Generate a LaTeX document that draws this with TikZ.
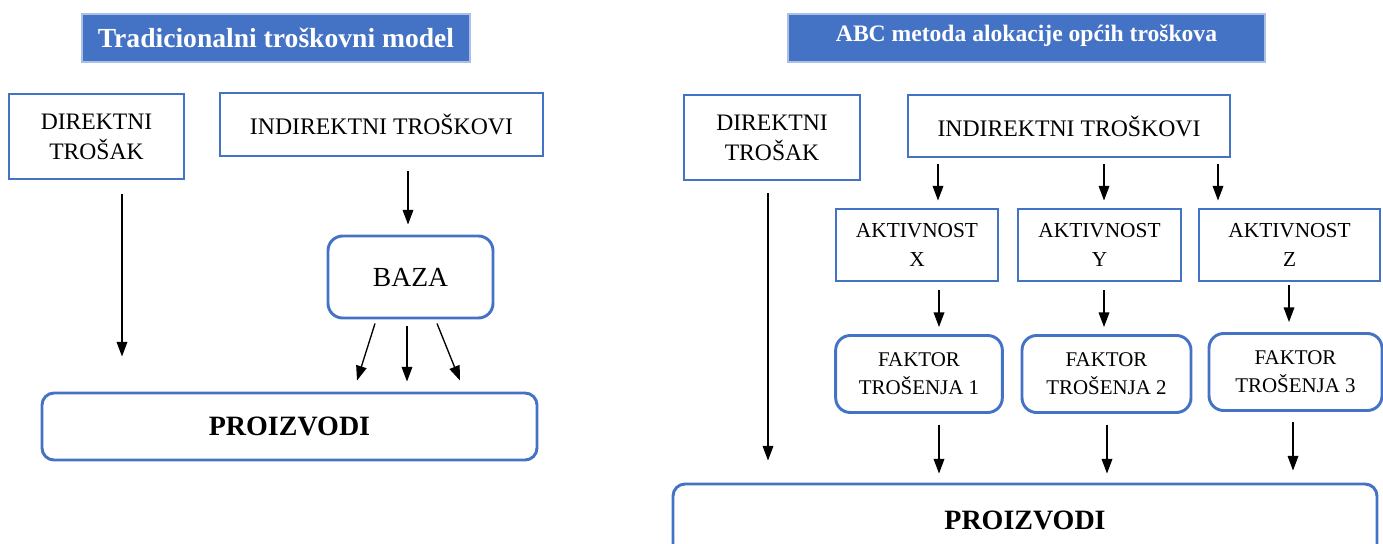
\documentclass[tikz,border=0pt]{standalone}
\usepackage{fontspec}
\setmainfont{Liberation Serif}
\usetikzlibrary{arrows.meta,calc}
\definecolor{hdblue}{HTML}{4472C4}

\tikzset{every picture/.style={line width=0.75pt}}
\tikzset{
  hdbox/.style={fill=hdblue, draw=hdblue!45, line width=1.5pt, text=white, inner sep=0pt},
  sqbox/.style={draw=hdblue, line width=2.2pt, align=center, inner sep=0pt},
  rdbox/.style={sqbox, rounded corners=11pt},
  arr/.style={line width=1pt, -{Triangle[length=11pt,width=8pt]}},
}

\begin{document}
\begin{tikzpicture}[x=0.75pt,y=0.75pt,yscale=-1,xscale=1]
\useasboundingbox (0,0) rectangle (1383,543);

%%% Tradicionalni model
% Text Node
\node (hdl) [hdbox, minimum width=291pt, minimum height=36pt, font={\fontsize{20.7}{24}\selectfont\bfseries}] at (276,38) {Tradicionalni troškovni model};
% Text Node
\node (dl) [sqbox, minimum width=131.25pt, minimum height=63.75pt, font={\fontsize{17.7}{22.5}\selectfont}] at (96.5,136.5) {DIREKTNI\\TROŠAK};
% Text Node
\node (il) [sqbox, minimum width=242.25pt, minimum height=47.25pt, font={\fontsize{17.8}{22.5}\selectfont}] at (381.5,124.5) {INDIREKTNI TROŠKOVI};
% Rounded Rect
\node (baza) [rdbox, minimum width=123.75pt, minimum height=61.5pt, font={\fontsize{20.7}{24}\selectfont}] at (410.5,277) {BAZA};
% Rounded Rect
\node (pl) [rdbox, rounded corners=9pt, minimum width=371.25pt, minimum height=50.25pt, font={\fontsize{21}{24}\selectfont\bfseries}] at (289.5,426.5) {PROIZVODI};

%Straight Lines
\draw [arr] ($(dl.south)+(25.5,14)$) -- ($(pl.north)+(-167.5,-35)$);
\draw [arr] ($(il.south)+(26.5,14)$) -- ($(baza.north)+(-2.5,-10)$);
\draw [arr] ($(baza.south)+(-35.5,4)$) -- ($(pl.north)+(67.5,-11)$);
\draw [arr] ($(baza.south)+(-3.5,7)$) -- ($(pl.north)+(117.5,-10)$);
\draw [arr] ($(baza.south)+(26.5,4)$) -- ($(pl.north)+(170.5,-11)$);

%%% ABC metoda
% Text Node
\node (hdr) [hdbox, minimum width=357.75pt, minimum height=36pt, text depth=7.5pt, font={\fontsize{17.7}{22}\selectfont\bfseries}] at (1026.5,38) {ABC metoda alokacije općih troškova};
% Text Node
\node (dr) [sqbox, minimum width=132pt, minimum height=63.75pt, font={\fontsize{17.7}{22.5}\selectfont}] at (772,137.5) {DIREKTNI\\TROŠAK};
% Text Node
\node (ir) [sqbox, minimum width=241.5pt, minimum height=46.5pt, font={\fontsize{17.8}{22.5}\selectfont}] at (1069,126) {INDIREKTNI TROŠKOVI};
% Text Node
\node (ax) [sqbox, minimum width=121.5pt, minimum height=54pt, font={\fontsize{16}{21.75}\selectfont}] at (917,245) {AKTIVNOST\\X};
\node (ay) [sqbox, minimum width=122.25pt, minimum height=54pt, font={\fontsize{16}{21.75}\selectfont}] at (1099.5,245) {AKTIVNOST\\Y};
\node (az) [sqbox, minimum width=135.75pt, minimum height=54pt, font={\fontsize{16}{21.75}\selectfont}] at (1289.5,245) {AKTIVNOST\\Z};
% Rounded Rect
\node (f1) [rdbox, minimum width=125pt, minimum height=57.75pt, font={\fontsize{15.7}{21}\selectfont}] at (919,374) {FAKTOR\\TROŠENJA 1};
\node (f2) [rdbox, minimum width=126.75pt, minimum height=57.75pt, font={\fontsize{15.7}{21}\selectfont}] at (1106.5,374) {FAKTOR\\TROŠENJA 2};
\node (f3) [rdbox, minimum width=129.75pt, minimum height=57.75pt, font={\fontsize{15.7}{21}\selectfont}] at (1295.5,372) {FAKTOR\\TROŠENJA 3};
% Rounded Rect
\node (pr) [rdbox, rounded corners=9pt, minimum width=528pt, minimum height=54pt, font={\fontsize{21}{24}\selectfont\bfseries}] at (1025,520) {PROIZVODI};

%Straight Lines
\draw [arr] ($(ir.south)+(-131,6)$) -- ($(ax.north)+(21,-7)$);
\draw [arr] ($(ir.south)+(35,6)$) -- ($(ay.north)+(4.5,-7)$);
\draw [arr] ($(ir.south)+(149,6)$) -- ($(az.north)+(-71.5,-7)$);
\draw [arr] ($(ax.south)+(22,8)$) -- ($(f1.north)+(20,-7)$);
\draw [arr] ($(ay.south)+(4.5,8)$) -- ($(f2.north)+(-2.5,-7)$);
\draw [arr] ($(az.south)+(-0.5,3)$) -- ($(f3.north)+(-6.5,-10)$);
\draw [arr] ($(f1.south)+(20,11)$) -- ($(pr.north)+(-86,-9)$);
\draw [arr] ($(f2.south)+(0.5,11)$) -- ($(pr.north)+(82,-9)$);
\draw [arr] ($(f3.south)+(-2.5,10)$) -- ($(pr.north)+(268,-12)$);
\draw [arr] ($(dr.south)+(-4,12)$) -- ($(pr.north)+(-257,-22)$);

\end{tikzpicture}
\end{document}
